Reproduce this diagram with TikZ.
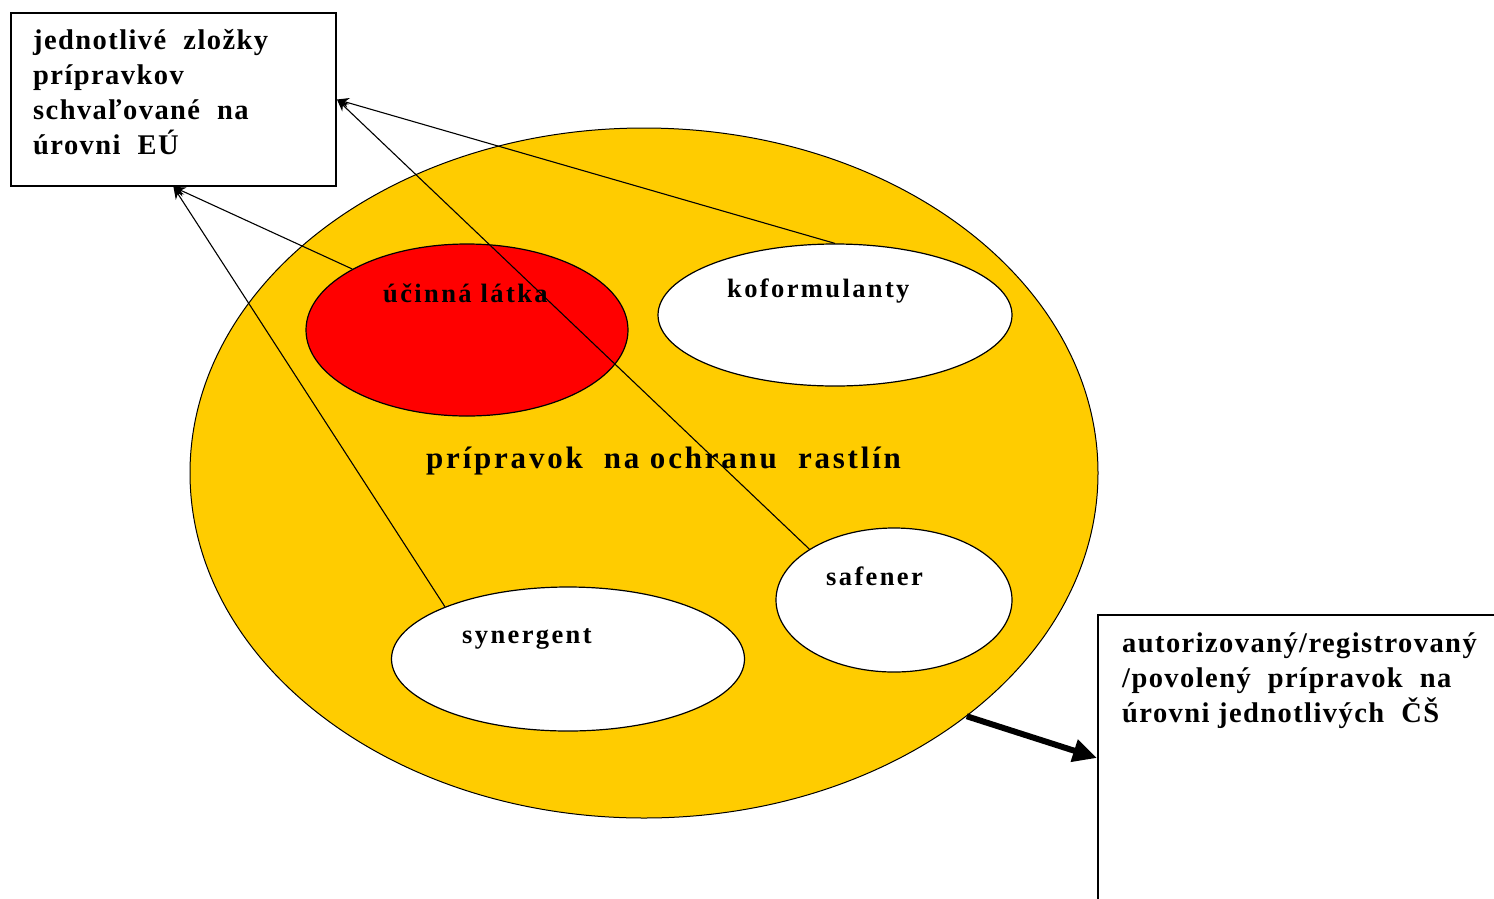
\documentclass[tikz,border=0pt]{standalone}
\usepackage{fontspec}
\setmainfont{Liberation Serif}
\newfontfamily\lblfont{Liberation Serif}[LetterSpace=9]
\newfontfamily\boxfont{Liberation Serif}[LetterSpace=5]
\usetikzlibrary{shapes.geometric,arrows.meta}
\definecolor{gold}{HTML}{FFCC00}
\definecolor{pure red}{HTML}{FF0000}
\tikzset{
  blob/.style={ellipse, draw=black, line width=1.2pt, inner sep=0pt, fill=white},
  framebox/.style={rectangle, draw=black, line width=2pt, inner sep=0pt, fill=white},
  inlabel/.style={font=\lblfont\bfseries\fontsize{26.5}{30}\selectfont, inner sep=0pt, anchor=base west},
  mainlabel/.style={font=\lblfont\bfseries\fontsize{31}{36}\selectfont, inner sep=0pt, anchor=base west},
  boxtext/.style={font=\boxfont\bfseries\fontsize{28.5}{35}\selectfont, inner sep=0pt, anchor=north west, align=left},
  thinarrow/.style={-{Stealth[length=12pt,width=10pt]}, line width=1.1pt, draw=black},
  thickarrow/.style={-{Triangle[length=24pt,width=22pt]}, line width=6pt, draw=black}
}
\begin{document}
\begin{tikzpicture}[x=1pt,y=-1pt]
\useasboundingbox (0,0) rectangle (1494,898);
\clip (0,0) rectangle (1494,898);
\fill[white] (0,0) rectangle (1494,898);
% main ellipse
\node[ellipse, draw=black, line width=1pt, fill=gold, minimum width=908pt, minimum height=690pt, inner sep=0pt] (big) at (644,473) {};
% inner ellipses
\node[blob, fill=pure red, minimum width=322pt, minimum height=172pt] (red) at (467,330) {};
\node[blob, minimum width=354pt, minimum height=142pt] (kof) at (835,315) {};
\node[blob, minimum width=236pt, minimum height=144pt] (saf) at (894,600) {};
\node[blob, minimum width=353pt, minimum height=144pt] (syn) at (568,659) {};
% boxes
\node[framebox, minimum width=325pt, minimum height=173pt] (eu) at (173.5,99.5) {};
\node[framebox, minimum width=400pt, minimum height=286pt] (cs) at (1298,758) {};
% labels
\node[inlabel] (redlbl) at (383,302) {účinná látka};
\node[inlabel] (koflbl) at (727,297) {koformulanty};
\node[inlabel] (saflbl) at (826,585) {safener};
\node[inlabel] (synlbl) at (462,643) {synergent};
\node[mainlabel] (mainlbl) at (426,468) {prípravok\ \ na ochranu\ \ rastlín};
\node[boxtext] (eutext) at (33,29) {jednotlivé\ \ zložky\\prípravkov\\schvaľované\ \ na\\úrovni\ \ EÚ};
\node[boxtext] (cstext) at (1122,632) {autorizovaný/registrovaný\\/povolený\ \ prípravok\ \ na\\úrovni jednotlivých\ \ ČŠ};
% connectors
\draw[thinarrow] (kof.north) -- (eu.east);
\draw[thinarrow] (saf.149) -- (eu.east);
\draw[thinarrow] (red.152) -- (eu.south);
\draw[thinarrow] (syn.157) -- (eu.south);
\draw[thickarrow] (big.-37) -- (cs.west);
\end{tikzpicture}
\end{document}
